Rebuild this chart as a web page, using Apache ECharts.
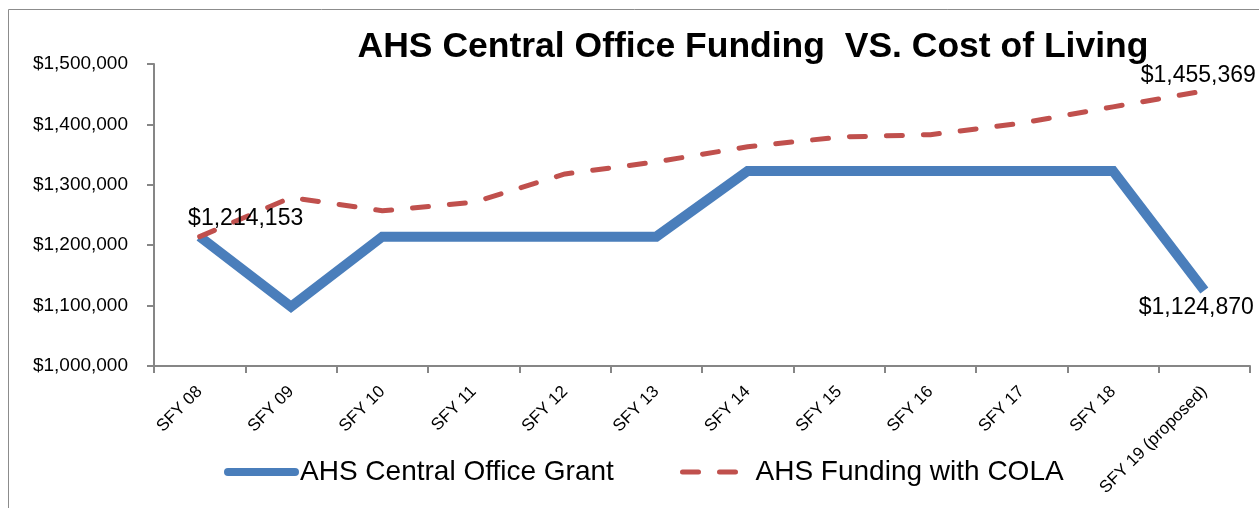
<!DOCTYPE html>
<html>
<head>
<meta charset="utf-8">
<script src="https://cdn.jsdelivr.net/npm/echarts@6/dist/echarts.min.js"></script>
<style>
  html, body { margin: 0; padding: 0; background: #fff; }
  #main { width: 1259px; height: 508px; }
</style>
</head>
<body>
<div id="main"></div>
<script>
var myChart = echarts.init(document.getElementById('main'));

var years = ['SFY 08', 'SFY 09', 'SFY 10', 'SFY 11', 'SFY 12', 'SFY 13', 'SFY 14',
    'SFY 15', 'SFY 16', 'SFY 17', 'SFY 18', 'SFY 19 (proposed)'];
var grant = [1214153, 1098000, 1214153, 1214153, 1214153, 1214153, 1323000,
    1323000, 1323000, 1323000, 1323000, 1124870];
var cola = [1214153, 1279000, 1257000, 1271000, 1318000, 1338000, 1363000,
    1379000, 1383000, 1402000, 1429000, 1455369];
var seriesNames = ['AHS Central Office Grant', 'AHS Funding with COLA'];

var font = 'Liberation Sans';
var money = function(v) {
    return '$' + Number(v).toLocaleString('en-US');
};

// only a few points carry a label
var grantData = grant.map(function(v, i) {
    if (i === grant.length - 1) {
        return { value: v, label: { show: true, position: 'bottom', offset: [-8, 1] } };
    }
    return v;
});
var colaData = cola.map(function(v, i) {
    if (i === 0) {
        return { value: v, label: { show: true, position: 'top', offset: [46, -1] } };
    }
    if (i === cola.length - 1) {
        return { value: v, label: { show: true, position: 'top', offset: [-6, 1] } };
    }
    return v;
});

option = {
    backgroundColor: '#fff',
    animation: false,
    title: {
        text: 'AHS Central Office Funding  VS. Cost of Living',
        left: 748,
        top: 24,
        textAlign: 'center',
        textStyle: { fontFamily: font, fontSize: 35.5, fontWeight: 'bold', color: '#000' }
    },
    graphic: [{
        type: 'rect',
        shape: { x: 8.5, y: 9.5, width: 1300, height: 520 },
        style: { fill: null, stroke: '#8c8c8c', lineWidth: 1 },
        silent: true
    }],
    legend: [{
        data: [seriesNames[0]],
        left: 224,
        top: 458,
        padding: 0,
        itemWidth: 67,
        itemHeight: 14,
        itemStyle: { opacity: 0 },
        lineStyle: { width: 8, cap: 'round' },
        textStyle: { fontFamily: font, fontSize: 28, color: '#000' }
    }, {
        data: [seriesNames[1]],
        left: 680,
        top: 458,
        padding: 0,
        itemWidth: 57,
        itemHeight: 14,
        itemStyle: { opacity: 0 },
        lineStyle: { width: 5, cap: 'round' },
        textStyle: { fontFamily: font, fontSize: 28, color: '#000', padding: [0, 0, 0, 11] }
    }],
    grid: { left: 154, right: 9, top: 64, bottom: 142 },
    xAxis: {
        type: 'category',
        data: years,
        boundaryGap: true,
        axisLine: { lineStyle: { color: '#868686', width: 2 } },
        axisTick: { show: true, length: 7, lineStyle: { color: '#868686', width: 2 } },
        axisLabel: {
            rotate: 45,
            margin: 23,
            interval: 0,
            fontFamily: font,
            fontSize: 17,
            color: '#000'
        },
        splitLine: { show: false }
    },
    yAxis: {
        type: 'value',
        min: 1000000,
        max: 1500000,
        interval: 100000,
        axisLine: { show: true, lineStyle: { color: '#868686', width: 2 } },
        axisTick: { show: true, length: 7, lineStyle: { color: '#868686', width: 2 } },
        axisLabel: {
            margin: 26,
            fontFamily: font,
            fontSize: 19,
            color: '#000',
            formatter: money
        },
        splitLine: { show: false }
    },
    series: [{
        name: seriesNames[0],
        type: 'line',
        data: grantData,
        symbol: 'circle',
        symbolSize: 0,
        showSymbol: true,
        lineStyle: { color: '#4a7ebb', width: 10, join: 'miter' },
        itemStyle: { color: '#4a7ebb' },
        label: {
            show: false,
            fontFamily: font,
            fontSize: 23,
            color: '#000',
            formatter: function(p) { return money(p.value); }
        }
    }, {
        name: seriesNames[1],
        type: 'line',
        data: colaData,
        symbol: 'circle',
        symbolSize: 0,
        showSymbol: true,
        lineStyle: { color: '#c0504d', width: 5, type: [16, 21], cap: 'round' },
        itemStyle: { color: '#c0504d' },
        label: {
            show: false,
            fontFamily: font,
            fontSize: 23,
            color: '#000',
            formatter: function(p) { return money(p.value); }
        }
    }]
};

myChart.setOption(option);
</script>
</body>
</html>
